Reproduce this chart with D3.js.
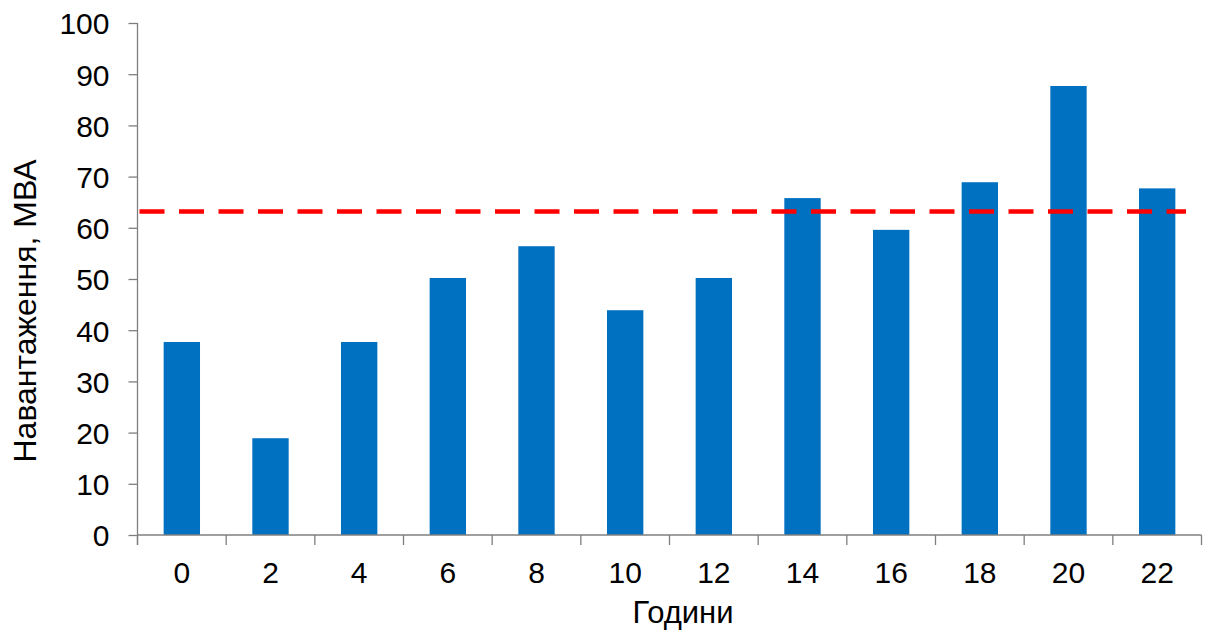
<!DOCTYPE html>
<html>
<head>
<meta charset="utf-8">
<script src="https://cdn.jsdelivr.net/npm/d3@7"></script>
<style>
  body { margin: 0; background: #fff; }
  text { font-family: "Liberation Sans", Arial, sans-serif; fill: #000; }
</style>
</head>
<body>
<svg id="chart" width="1206" height="630"></svg>
<script>
var hours = ['0', '2', '4', '6', '8', '10', '12', '14', '16', '18', '20', '22'];
var loads = [37.7, 18.9, 37.7, 50.2, 56.4, 43.9, 50.2, 65.8, 59.6, 68.9, 87.7, 67.7];
var limit = [63.2];
var yTicks = [0, 10, 20, 30, 40, 50, 60, 70, 80, 90, 100];

(function() {
    var svg = d3.select('#chart');
    var plotLeft = 137.5, plotRight = 1201.5, plotTop = 23, plotBottom = 535;

    var x = d3.scaleBand().domain(hours).range([plotLeft, plotRight])
        .paddingInner(0.59).paddingOuter(0.295);
    var xTicks = d3.scaleBand().domain(hours).range([plotLeft, plotRight]);
    var y = d3.scaleLinear().domain([0, 100]).range([plotBottom, plotTop]);

    // bars
    svg.append('g').selectAll('rect').data(loads).enter().append('rect')
        .attr('x', function(d, i) { return x(hours[i]); })
        .attr('y', function(d) { return y(d); })
        .attr('width', x.bandwidth())
        .attr('height', function(d) { return y(0) - y(d); })
        .attr('fill', '#0070C0');

    // y axis
    var yAxis = svg.append('g')
        .attr('transform', 'translate(' + plotLeft + ',0)')
        .call(d3.axisLeft(y).tickValues(yTicks).tickSize(9).tickPadding(19));
    yAxis.selectAll('text').style('font-size', '30px').attr('dy', '0.36em');

    // x axis
    var xAxis = svg.append('g')
        .attr('transform', 'translate(0,' + plotBottom + ')')
        .call(d3.axisBottom(xTicks).tickSize(0).tickPadding(27));
    xAxis.selectAll('text').style('font-size', '30px');
    // category separators
    xAxis.selectAll('line.sep').data(hours.concat(['end'])).enter().append('line')
        .attr('class', 'sep')
        .attr('x1', function(d, i) { return plotLeft + i * xTicks.step(); })
        .attr('x2', function(d, i) { return plotLeft + i * xTicks.step(); })
        .attr('y1', 0).attr('y2', 10);

    svg.selectAll('.domain, .tick line, line.sep')
        .attr('stroke', '#7f7f7f').attr('stroke-width', 1.3);
    svg.selectAll('.domain').attr('fill', 'none');
    xAxis.select('.domain').attr('d', 'M' + plotLeft + ',0H' + plotRight);
    yAxis.select('.domain').attr('d', 'M0,' + plotTop + 'V' + (plotBottom + 10));

    // limit line
    svg.append('g').selectAll('line').data(limit).enter().append('line')
        .attr('x1', plotLeft + 2).attr('x2', 1186)
        .attr('y1', function(d) { return y(d); })
        .attr('y2', function(d) { return y(d); })
        .attr('stroke', '#FF0000')
        .attr('stroke-width', 4.5)
        .attr('stroke-dasharray', '25,14.5');

    // axis titles
    svg.append('text')
        .attr('x', 683).attr('y', 623)
        .attr('text-anchor', 'middle')
        .style('font-size', '31px')
        .text('Години');

    svg.append('text')
        .attr('transform', 'translate(36,311) rotate(-90)')
        .attr('text-anchor', 'middle')
        .style('font-size', '32px')
        .text('Навантаження, МВА');
})();
</script>
</body>
</html>
